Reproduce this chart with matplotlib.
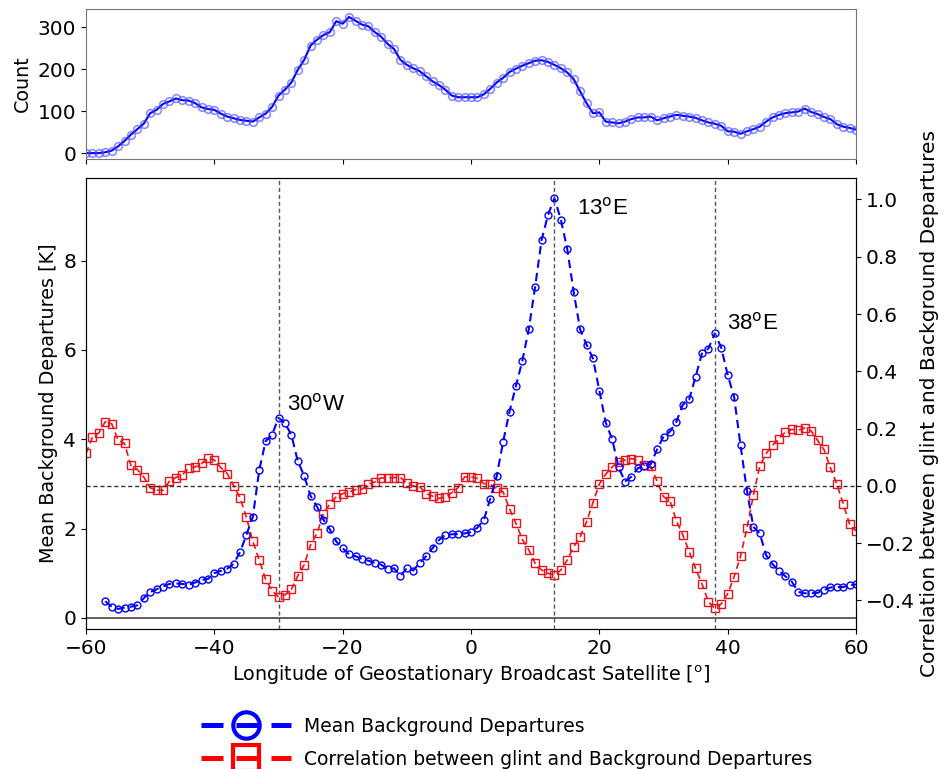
import numpy as np
import matplotlib
matplotlib.use("Agg")
import matplotlib.pyplot as plt
from matplotlib.lines import Line2D

plt.rcParams['font.family'] = ['DejaVu Sans']
plt.rcParams['mathtext.fontset'] = 'dejavusans'

# ---------------- data ----------------
lon = np.arange(-60, 61)

count = [0, 0, 0, 2, 6, 16, 29, 44, 57, 70,
         95, 103, 117, 123, 130, 126, 125, 119, 109, 105,
         103, 94, 87, 83, 79, 77, 75, 85, 94, 110,
         137, 151, 168, 198, 222, 256, 270, 281, 288, 314,
         308, 324, 315, 306, 302, 288, 277, 260, 248, 222,
         210, 202, 195, 183, 171, 162, 151, 137, 133, 133,
         133, 133, 140, 153, 168, 179, 193, 201, 208, 214,
         220, 221, 217, 210, 202, 192, 176, 147, 119, 95,
         97, 75, 73, 71, 75, 81, 85, 85, 87, 78,
         83, 87, 91, 89, 87, 84, 78, 73, 70, 65,
         52, 51, 46, 52, 57, 63, 75, 85, 91, 95,
         97, 99, 106, 98, 93, 86, 81, 69, 63, 60,
         56]

lon_mean = np.arange(-57, 61)
mean_dep = [0.37, 0.25, 0.20, 0.23, 0.25, 0.28, 0.44,
            0.58, 0.64, 0.70, 0.76, 0.77, 0.76, 0.74, 0.79, 0.85, 0.87,
            1.00, 1.05, 1.10, 1.21, 1.47, 1.86, 2.26, 3.31, 3.96, 4.10,
            4.48, 4.36, 4.10, 3.51, 3.18, 2.73, 2.49, 2.20, 1.98, 1.71,
            1.56, 1.42, 1.38, 1.32, 1.28, 1.23, 1.19, 1.09, 1.11, 0.94,
            1.11, 1.06, 1.23, 1.38, 1.56, 1.74, 1.86, 1.87, 1.88, 1.89,
            1.92, 2.02, 2.19, 2.67, 3.17, 3.94, 4.62, 5.19, 5.76, 6.46,
            7.42, 8.46, 9.02, 9.40, 8.92, 8.26, 7.30, 6.46, 6.12, 5.81,
            5.09, 4.37, 4.00, 3.37, 3.05, 3.16, 3.35, 3.40, 3.44, 3.77,
            4.06, 4.17, 4.39, 4.77, 4.89, 5.40, 5.92, 6.03, 6.37, 6.05,
            5.44, 4.95, 3.87, 2.85, 2.04, 1.89, 1.40, 1.20, 1.05, 0.93,
            0.81, 0.58, 0.55, 0.55, 0.56, 0.62, 0.68, 0.69, 0.69, 0.73,
            0.75]

corr = [0.113, 0.169, 0.185, 0.224, 0.217, 0.159, 0.148, 0.071, 0.057, 0.031,
        -0.007, -0.015, -0.016, 0.016, 0.029, 0.038, 0.062, 0.066, 0.078, 0.097,
        0.090, 0.064, 0.043, 0.001, -0.041, -0.110, -0.194, -0.259, -0.327, -0.366,
        -0.388, -0.381, -0.362, -0.315, -0.276, -0.206, -0.166, -0.097, -0.064, -0.038,
        -0.027, -0.022, -0.013, -0.012, 0.006, 0.013, 0.028, 0.026, 0.029, 0.029,
        0.010, -0.001, -0.003, -0.027, -0.036, -0.044, -0.038, -0.024, -0.006, 0.031,
        0.031, 0.026, 0.008, 0.006, -0.009, -0.021, -0.080, -0.131, -0.187, -0.224,
        -0.271, -0.294, -0.305, -0.312, -0.294, -0.259, -0.213, -0.178, -0.126, -0.059,
        0.006, 0.041, 0.066, 0.084, 0.090, 0.095, 0.090, 0.072, 0.069, 0.016,
        -0.038, -0.052, -0.122, -0.171, -0.230, -0.288, -0.343, -0.405, -0.428, -0.412,
        -0.377, -0.318, -0.246, -0.149, -0.033, 0.069, 0.113, 0.142, 0.165, 0.188,
        0.197, 0.194, 0.202, 0.192, 0.159, 0.127, 0.064, 0.006, -0.062, -0.134,
        -0.157]

sat_lons = [-30, 13, 38]
sat_labels = ["30", "13", "38"]
sat_dirs = ["W", "E", "E"]
label_pos = [(-28.7, 4.78), (16.5, 9.18), (39.9, 6.6)]

xticks = [-60, -40, -20, 0, 20, 40, 60]

# ---------------- figure ----------------
fig = plt.figure(figsize=(9.52, 7.69), dpi=100)
L, R = 86 / 952, 856 / 952
ax_top = fig.add_axes([L, 1 - 159 / 769, R - L, (159 - 9) / 769])
ax = fig.add_axes([L, 1 - 629 / 769, R - L, (629 - 178) / 769])
ax2 = ax.twinx()

TFS = 14.5
LFS = 13.8
# top panel
ax_top.plot(lon, count, '-', color='blue', lw=1.5, marker='o', ms=5.5,
            mfc='none', mec=(0.25, 0.25, 1.0, 0.6), mew=1.2)
ax_top.set_xlim(-60, 60)
ax_top.set_ylim(-14, 343)
ax_top.set_xticks(xticks)
ax_top.set_xticklabels([])
ax_top.set_yticks([0, 100, 200, 300])
ax_top.tick_params(labelsize=TFS)
ax_top.set_ylabel("Count", fontsize=LFS)
for s in ax_top.spines.values():
    s.set_color('#777777')

# main panel
ax.plot(lon_mean, mean_dep, '--', color='blue', lw=1.5, marker='o', ms=5,
        mfc='none', mec='blue', mew=1.0, dashes=(4, 2.5))
ax.axhline(0, color='#444444', lw=1.2)
for xv in sat_lons:
    ax.axvline(xv, color='#555555', lw=1.0, ls=(0, (3, 2)))
ax.set_xlim(-60, 60)
ax.set_ylim(-0.25, 9.85)
ax.set_xticks(xticks)
ax.set_xticklabels([str(v).replace('-', '\u2212') for v in xticks])
ax.set_yticks([0, 2, 4, 6, 8])
ax.tick_params(labelsize=TFS)
ax.set_ylabel("Mean Background Departures [K]", fontsize=LFS)
ax.set_xlabel("Longitude of Geostationary Broadcast Satellite [$^{\\rm o}$]", fontsize=LFS)

ax2.plot(lon, corr, '--', color='#e8131b', lw=1.2, marker='s', ms=6,
         mfc='none', mec='#e8131b', mew=1.0, dashes=(4, 2.5))
ax2.axhline(0, color='#333333', lw=1.0, ls=(0, (3, 2)))
ax2.set_ylim(-0.5, 1.075)
rt = [-0.4, -0.2, 0.0, 0.2, 0.4, 0.6, 0.8, 1.0]
ax2.set_yticks(rt)
ax2.set_yticklabels([f"{v:.1f}".replace('-', '\u2212') for v in rt])
ax2.tick_params(labelsize=TFS)
ax2.set_ylabel("Correlation between glint and Background Departures", fontsize=14.5)

ax.set_zorder(ax2.get_zorder() + 1)
ax.patch.set_visible(False)

for num, d, (xp, yp) in zip(sat_labels, sat_dirs, label_pos):
    ax.text(xp, yp, num + "$^{\\mathsf{o}}$" + d, fontsize=16,
            family='Liberation Sans', va='center', ha='left')

# legend
h1 = Line2D([], [], color='blue', lw=3.6, ls=(0, (4.4, 2.6)), marker='o', ms=19,
            mfc='none', mec='blue', mew=3)
h2 = Line2D([], [], color='red', lw=3.6, ls=(0, (4.4, 2.6)), marker='s', ms=19,
            mfc='none', mec='red', mew=3)
fig.legend([h1, h2], ["Mean Background Departures",
                      "Correlation between glint and Background Departures"],
           loc='lower left', bbox_to_anchor=(184 / 952, -0.022), frameon=False,
           fontsize=13.5, handlelength=4.8, handletextpad=0.7, labelspacing=0.75)

fig.savefig("out.png", dpi=100)
